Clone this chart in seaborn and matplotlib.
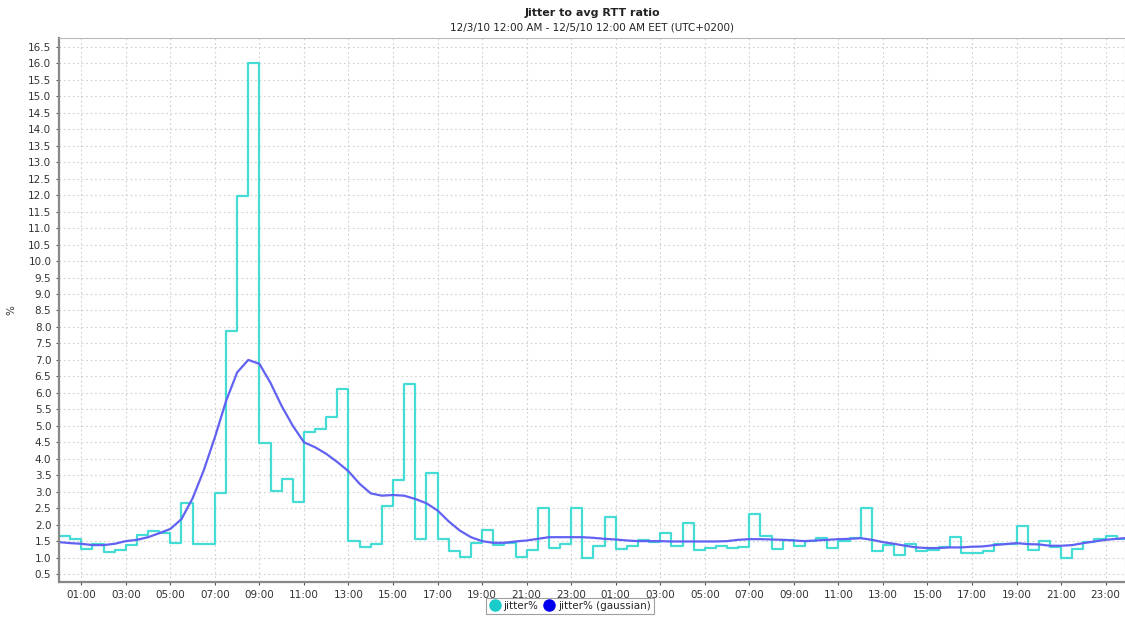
import matplotlib
matplotlib.use("Agg")
import matplotlib.pyplot as plt
from matplotlib.lines import Line2D
import numpy as np
import pandas as pd
import seaborn as sns

# ---- data (half-hour samples, hours since 12/3/10 00:00) ----
jitter = [1.65, 1.55, 1.26, 1.40, 1.16, 1.23, 1.38, 1.69, 1.80, 1.74,
          1.45, 2.65, 1.40, 1.40, 2.95, 7.88, 11.98, 16.02, 4.47, 3.02,
          3.40, 2.70, 4.80, 4.90, 5.28, 6.13, 1.50, 1.33, 1.42, 2.58,
          3.36, 6.27, 1.56, 3.57, 1.57, 1.19, 1.03, 1.45, 1.83, 1.38,
          1.43, 1.03, 1.23, 2.52, 1.28, 1.41, 2.52, 1.00, 1.34, 2.22,
          1.26, 1.36, 1.52, 1.47, 1.75, 1.34, 2.06, 1.23, 1.29, 1.34,
          1.30, 1.33, 2.32, 1.67, 1.26, 1.54, 1.36, 1.50, 1.59, 1.28,
          1.49, 1.59, 2.52, 1.19, 1.38, 1.08, 1.41, 1.19, 1.23, 1.31,
          1.62, 1.14, 1.14, 1.21, 1.41, 1.41, 1.97, 1.23, 1.49, 1.31,
          0.99, 1.26, 1.47, 1.57, 1.65, 1.55]

gaussian = [1.47, 1.44, 1.42, 1.38, 1.38, 1.42, 1.50, 1.54, 1.62, 1.74,
            1.87, 2.17, 2.80, 3.65, 4.65, 5.75, 6.62, 7.00, 6.88, 6.30,
            5.60, 5.00, 4.50, 4.35, 4.15, 3.90, 3.62, 3.24, 2.95, 2.88,
            2.90, 2.88, 2.78, 2.65, 2.43, 2.10, 1.82, 1.62, 1.50, 1.45,
            1.45, 1.49, 1.52, 1.57, 1.62, 1.62, 1.62, 1.62, 1.60, 1.57,
            1.55, 1.52, 1.50, 1.50, 1.50, 1.49, 1.49, 1.49, 1.49, 1.49,
            1.50, 1.54, 1.56, 1.56, 1.55, 1.54, 1.52, 1.50, 1.52, 1.54,
            1.56, 1.57, 1.59, 1.54, 1.47, 1.42, 1.36, 1.31, 1.29, 1.29,
            1.31, 1.31, 1.33, 1.34, 1.38, 1.41, 1.44, 1.41, 1.40, 1.36,
            1.36, 1.38, 1.44, 1.49, 1.54, 1.57, 1.60]

x_ticks = list(range(1, 48, 2))
x_tick_labels = ["%02d:00" % (h % 24) for h in x_ticks]
y_ticks = [v / 2 for v in range(1, 34)]

title = "Jitter to avg RTT ratio"
subtitle = "12/3/10 12:00 AM - 12/5/10 12:00 AM EET (UTC+0200)"
legend_labels = ["jitter%", "jitter% (gaussian)"]

# ---- frames ----
t_step = np.arange(len(jitter)) * 0.5
df_j = pd.DataFrame({"t": np.append(t_step, t_step[-1] + 0.5),
                     "v": jitter + [jitter[-1]]})
df_g = pd.DataFrame({"t": np.arange(len(gaussian)) * 0.5, "v": gaussian})

sns.set_theme(style="white")
plt.rcParams["font.family"] = ["DejaVu Sans"]

fig = plt.figure(figsize=(11.25, 6.19), dpi=100)
ax_w = (1125 - 59) / 1125
ax = fig.add_axes([59 / 1125, 1 - 582 / 619, ax_w, (582 - 38) / 619])

cyan = "#45DCD6"
blue = "#6262F2"

sns.lineplot(data=df_j, x="t", y="v", ax=ax, color=cyan, lw=1.6,
             drawstyle="steps-post", estimator=None, sort=False)
sns.lineplot(data=df_g, x="t", y="v", ax=ax, color=blue, lw=1.6,
             estimator=None, sort=False)

ax.set_xlim(0, 47.87)
ax.set_ylim(0.26, 16.77)
ax.set_xticks(x_ticks)
ax.set_xticklabels(x_tick_labels)
ax.set_yticks(y_ticks)
ax.set_yticklabels(["%.1f" % v for v in y_ticks])
ax.tick_params(axis="both", labelsize=7.5, colors="#555555", length=2.5,
               width=0.8, direction="out", pad=3, bottom=True, left=True)
for lab in ax.get_xticklabels() + ax.get_yticklabels():
    lab.set_color("#333333")
ax.set_xlabel("")
ax.set_ylabel("%", fontsize=7.5, color="#333333", rotation=90)
ax.yaxis.set_label_coords(-(59 - 16) / 1066, 0.5)

ax.grid(True, color="#D0D0D0", linestyle=(0, (1.5, 2.5)), linewidth=0.8)
for side in ["left", "bottom"]:
    ax.spines[side].set_color("#888888")
    ax.spines[side].set_linewidth(1.6)
for side in ["top", "right"]:
    ax.spines[side].set_color("#BBBBBB")
    ax.spines[side].set_linewidth(0.8)

fig.text(0.5 + 30 / 1125, 1 - 13 / 619, title, ha="center", va="center",
         fontsize=8, fontweight="bold", color="#222222")
fig.text(0.5 + 30 / 1125, 1 - 28 / 619, subtitle, ha="center", va="center",
         fontsize=7.5, color="#222222")

handles = [Line2D([], [], marker="o", ls="", color="#19CCCC", markersize=8),
           Line2D([], [], marker="o", ls="", color="#0000EE", markersize=8)]
leg = fig.legend(handles, legend_labels, loc="center",
                 bbox_to_anchor=(570 / 1125, 1 - 606 / 619), ncol=2,
                 fontsize=7.5, frameon=True, fancybox=False,
                 handlelength=1.0, handletextpad=0.3, columnspacing=0.6,
                 borderpad=0.3, edgecolor="#888888")
leg.get_frame().set_linewidth(0.8)

fig.savefig("out.png", dpi=100, facecolor="white")
